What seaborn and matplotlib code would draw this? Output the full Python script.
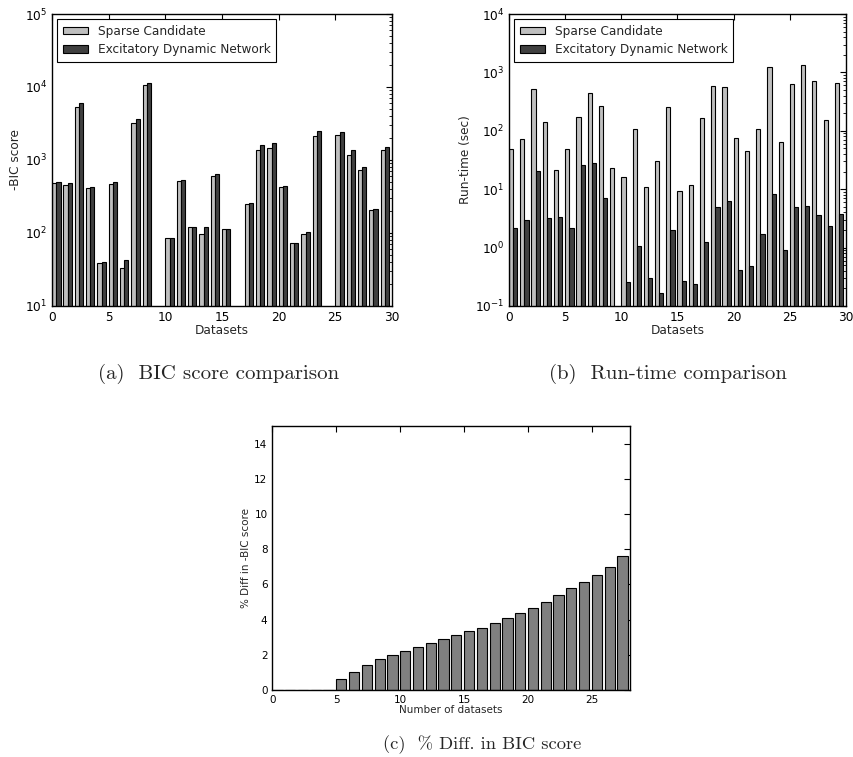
import matplotlib
matplotlib.use('Agg')
import matplotlib.pyplot as plt
import seaborn as sns
import pandas as pd

# -BIC score per dataset (None = no result for that dataset)
datasets = list(range(30))
bic_sparse = [480, 460, 5300, 410, 39, 470, 33, 3200, 10800, None,
              85, 510, 120, 97, 600, 112, None, 248, 1370, 1460,
              428, 72, 97, 2130, None, 2220, 1180, 730, 207, 1370]
bic_edn = [500, 480, 6000, 430, 40, 500, 43, 3700, 11500, None,
           85, 540, 120, 121, 637, 112, None, 258, 1600, 1690,
           446, 72, 103, 2460, None, 2410, 1356, 794, 214, 1506]

# run-time (sec) per dataset
rt_sparse = [48.6, 71, 515, 144, 21.7, 48.6, 169, 446, 270, 23.4,
             15.9, 109, 11.1, 29.9, 251, 9.3, 11.7, 167, 590, 565,
             74, 45, 107, 1217, 65, 630, 1350, 710, 152, 665]
rt_edn = [2.17, 2.93, 20.4, 3.17, 3.34, 2.17, 25.5, 28, 7.0, None,
          0.26, 1.05, 0.30, 0.166, 1.98, 0.27, 0.236, 1.23, 4.9, 6.2,
          0.42, 0.49, 1.74, 8.3, 0.9, 5.0, 5.2, 3.6, 2.38, 3.76]

# % diff in -BIC score vs number of datasets
n_datasets = list(range(28))
pct_diff = [0, 0, 0, 0, 0, 0.61, 1.04, 1.40, 1.75, 2.01,
            2.24, 2.46, 2.68, 2.92, 3.13, 3.36, 3.53, 3.81, 4.08, 4.35,
            4.67, 5.01, 5.41, 5.77, 6.15, 6.51, 7.0, 7.63]

methods = ['Sparse Candidate', 'Excitatory Dynamic Network']
colors = ['#bfbfbf', '#404040']
pair_w = 0.75

sns.set_style('white')
plt.rcParams['font.family'] = ['DejaVu Sans']
plt.rcParams['axes.edgecolor'] = 'black'
plt.rcParams['axes.linewidth'] = 1.0


def long_table(a, b, col):
    rows = []
    for d, va, vb in zip(datasets, a, b):
        if va is not None:
            rows.append({'pos': d + pair_w / 2, 'method': methods[0], col: va})
        if vb is not None:
            rows.append({'pos': d + pair_w / 2, 'method': methods[1], col: vb})
    return pd.DataFrame(rows)


def style_axis(ax, size):
    ax.tick_params(which='both', direction='in', top=True, right=True,
                   labelsize=size, colors='black')
    ax.tick_params(which='major', length=4, width=0.8)
    ax.tick_params(which='minor', length=2, width=0.6)
    for s in ax.spines.values():
        s.set_visible(True)
        s.set_color('black')


fig = plt.figure(figsize=(8.54, 7.57), dpi=100)
ax_a = fig.add_axes([0.0609, 0.5958, 0.398, 0.3857])
ax_b = fig.add_axes([0.596, 0.5958, 0.3946, 0.3857])
ax_c = fig.add_axes([0.3189, 0.0885, 0.4189, 0.3488])

fs = 8.7
panels = [
    (ax_a, long_table(bic_sparse, bic_edn, 'score'), 'score', '-BIC score', (10, 1e5)),
    (ax_b, long_table(rt_sparse, rt_edn, 'time'), 'time', 'Run-time (sec)', (0.1, 1e4)),
]
for ax, df, col, ylab, ylim in panels:
    sns.barplot(data=df, x='pos', y=col, hue='method', hue_order=methods,
                palette=colors, native_scale=True, width=pair_w, dodge=True,
                errorbar=None, edgecolor='black', linewidth=0.8, saturation=1,
                ax=ax)
    ax.set_yscale('log')
    ax.set_ylim(*ylim)
    ax.set_xlim(0, 30)
    ax.set_xticks(range(0, 31, 5))
    ax.set_xticklabels([str(t) for t in range(0, 31, 5)])
    ax.set_xlabel('Datasets', fontsize=fs, labelpad=0)
    ax.set_ylabel(ylab, fontsize=fs, labelpad=2)
    style_axis(ax, fs)
    h, l = ax.get_legend_handles_labels()
    ax.legend(h, l, loc='upper left', fontsize=fs, fancybox=False,
              edgecolor='black', framealpha=1, borderpad=0.45,
              labelspacing=0.45, handletextpad=0.8, handlelength=2.1,
              handleheight=0.6, borderaxespad=0.45)
    ax.get_legend().get_frame().set_linewidth(0.8)

df_c = pd.DataFrame({'pos': [n + 0.4 for n in n_datasets], 'diff': pct_diff})
sns.barplot(data=df_c, x='pos', y='diff', color='#808080', native_scale=True,
            width=0.8, errorbar=None, edgecolor='black', linewidth=0.8,
            saturation=1, ax=ax_c)
ax_c.set_xlim(0, 28)
ax_c.set_ylim(0, 15)
ax_c.set_xticks(range(0, 26, 5))
ax_c.set_xticklabels([str(t) for t in range(0, 26, 5)])
ax_c.set_yticks(range(0, 15, 2))
ax_c.set_xlabel('Number of datasets', fontsize=7.5, labelpad=0)
ax_c.set_ylabel('% Diff in -BIC score', fontsize=7.5, labelpad=2)
style_axis(ax_c, 7.5)

cap = dict(family=['cmr10', 'DejaVu Serif'], ha='center', va='center')
fig.text(0.2564, 0.506, '(a)  BIC score comparison', fontsize=15, **cap)
fig.text(0.782, 0.506, '(b)  Run-time comparison', fontsize=15, **cap)
fig.text(0.564, 0.016, '(c)  % Diff. in BIC score', fontsize=13.3, **cap)

fig.savefig('out.png', dpi=100)
